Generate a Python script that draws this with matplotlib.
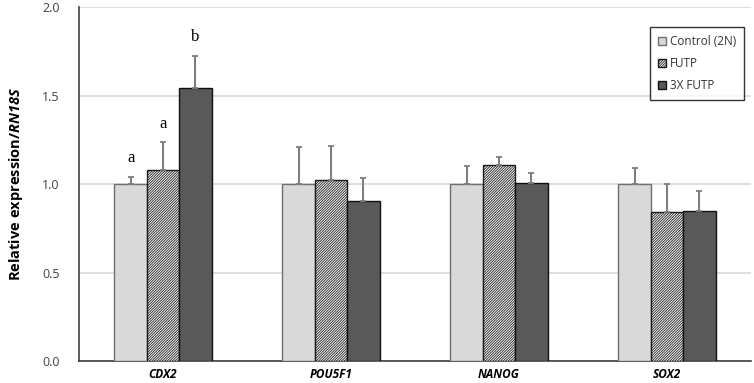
import matplotlib.pyplot as plt
import numpy as np

plt.rcParams['font.family'] = ['Open Sans', 'DejaVu Sans']
plt.rcParams['mathtext.fontset'] = 'custom'
plt.rcParams['mathtext.bfit'] = 'Open Sans:italic:bold'
plt.rcParams['hatch.linewidth'] = 0.6

# data
genes = ['CDX2', 'POU5F1', 'NANOG', 'SOX2']
groups = ['Control (2N)', 'FUTP', '3X FUTP']
control = [1.0, 1.0, 1.0, 1.0]
futp = [1.08, 1.02, 1.107, 0.84]
futp3x = [1.54, 0.906, 1.004, 0.845]
control_err = [0.041, 0.21, 0.103, 0.089]
futp_err = [0.155, 0.195, 0.043, 0.16]
futp3x_err = [0.183, 0.13, 0.06, 0.115]
letters = ['a', 'a', 'b']  # only over CDX2

fig = plt.figure(figsize=(7.54, 3.83), dpi=100)
ax = fig.add_axes([0.1048, 0.0574, 0.8912, 0.9243])

x = np.arange(len(genes))
w = 0.193
errkw = dict(ecolor='#7f7f7f', elinewidth=1.5, capsize=2.5, capthick=1.3)

ax.bar(x - w, control, w, color='#d9d9d9', edgecolor='#6f6f6f', linewidth=1.0,
       yerr=[np.zeros(4), control_err], error_kw=errkw, label=groups[0], zorder=3)
ax.bar(x, futp, w, color='white', edgecolor='#1a1a1a', hatch='/' * 13, linewidth=1.0,
       yerr=[np.zeros(4), futp_err], error_kw=errkw, label=groups[1], zorder=3)
ax.bar(x + w, futp3x, w, color='#595959', edgecolor='#111111', linewidth=1.0,
       yerr=[np.zeros(4), futp3x_err], error_kw=errkw, label=groups[2], zorder=3)

# significance letters for CDX2
tops = [control[0] + control_err[0], futp[0] + futp_err[0], futp3x[0] + futp3x_err[0]]
for off, t, lab in zip([-w, 0, w], tops, letters):
    ax.text(x[0] + off, t + 0.06, lab, ha='center', va='bottom',
            fontsize=12, family='Liberation Serif')

ax.set_xlim(-0.5, 3.5)
ax.set_ylim(0, 2.0)
ax.set_yticks([0, 0.5, 1.0, 1.5, 2.0])
ax.set_yticklabels(['0.0', '0.5', '1.0', '1.5', '2.0'], fontsize=9, color='#404040')
ax.set_xticks(x)
ax.set_xticklabels(genes, fontsize=8.5, fontstyle='italic', fontweight='bold')
ax.tick_params(axis='y', length=0, pad=14)
ax.tick_params(axis='x', length=0, pad=5)
ax.grid(axis='y', color='#d9d9d9', linewidth=1.2, zorder=0)
ax.set_axisbelow(True)

for s in ['top', 'right']:
    ax.spines[s].set_visible(False)
ax.spines['left'].set_color('#404040')
ax.spines['bottom'].set_color('#404040')
ax.spines['left'].set_linewidth(1.2)
ax.spines['bottom'].set_linewidth(1.2)

ax.set_ylabel(r'Relative expression/$\mathbfit{RN18S}$', fontsize=10.5,
              fontweight='bold', labelpad=12)

leg = ax.legend(loc='upper right', bbox_to_anchor=(0.999, 0.96), fontsize=8.5,
                frameon=True, fancybox=False, edgecolor='black',
                handlelength=0.7, handleheight=0.7, handletextpad=0.3,
                labelspacing=0.75, borderpad=0.7)
leg.get_frame().set_linewidth(1.0)
for txt in leg.get_texts():
    txt.set_color('#333333')

fig.savefig('out.png', dpi=100)
